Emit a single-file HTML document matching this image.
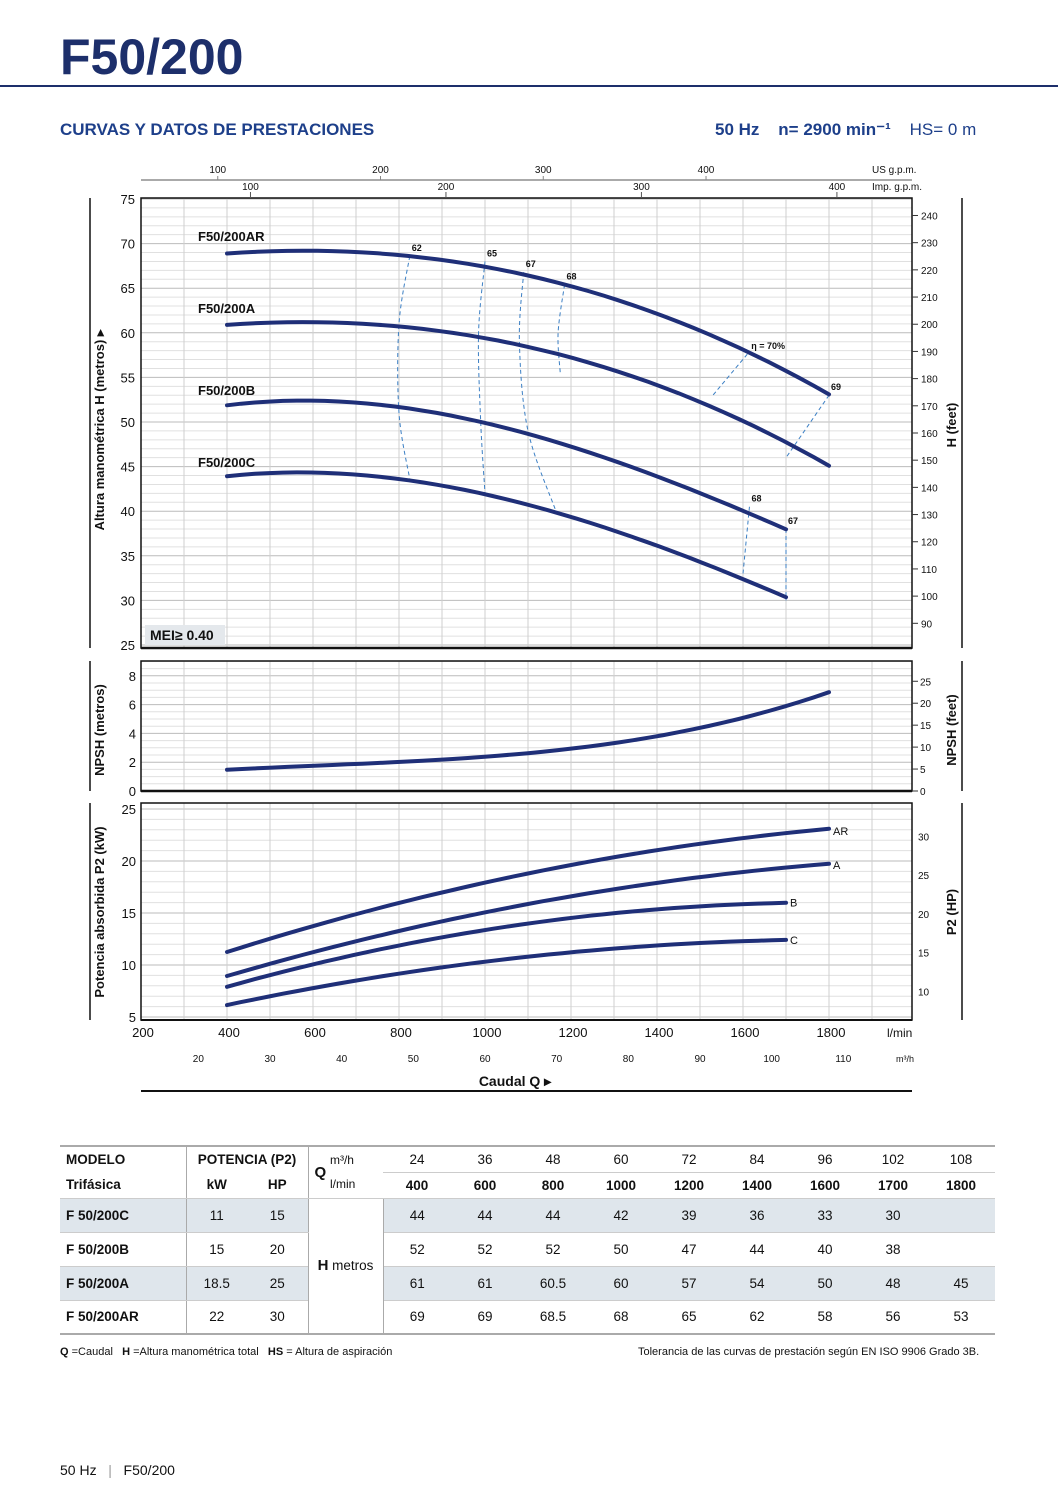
<!DOCTYPE html>
<html><head><meta charset="utf-8">
<style>
body{margin:0;background:#fff;}
#page{position:relative;width:1058px;height:1497px;overflow:hidden;font-family:"Liberation Sans",sans-serif;color:#111;}
.t{position:absolute;white-space:nowrap;}
table{border-collapse:collapse;position:absolute;left:60px;top:1145px;font-size:13.5px;table-layout:fixed;width:935px;}
td{height:34px;text-align:center;padding:0;border-bottom:1px solid #ccc;box-sizing:border-box;overflow:hidden;white-space:nowrap;}
tr.hd td{height:26px;}
.sh td.s{background:#dfe6ec;}
</style></head>
<body>
<div id="page">
<div class="t" style="left:60px;top:28px;font-size:50px;font-weight:bold;color:#1d2f6b;">F50/200</div>
<div style="position:absolute;left:0;top:85px;width:1058px;height:2px;background:#1d2f6b"></div>
<div class="t" style="left:60px;top:120px;font-size:17px;font-weight:bold;color:#1d3f8a;">CURVAS Y DATOS DE PRESTACIONES</div>
<div class="t" style="left:715px;top:120px;font-size:17px;color:#1d3f8a;"><b>50 Hz &nbsp;&nbsp; n= 2900 min⁻¹</b> &nbsp;&nbsp; HS= 0 m</div>

<svg id="chart" width="1058" height="1110" style="position:absolute;left:0;top:0" font-family="Liberation Sans, sans-serif"></svg>

<table>
<colgroup><col style="width:126px"><col style="width:61px"><col style="width:61px"><col style="width:75px"><col span="9" style="width:68px"></colgroup>
<tr class="hd" style="font-weight:bold"><td style="text-align:left;padding-left:6px;border-top:2px solid #aaa;border-bottom:none">MODELO</td><td colspan="2" style="border-top:2px solid #aaa;border-left:1px solid #aaa;border-bottom:none">POTENCIA (P2)</td><td rowspan="2" style="border-top:2px solid #aaa;border-left:1px solid #aaa;text-align:left;font-weight:normal"><b style="font-size:15px;padding-left:6px;vertical-align:middle">Q</b> <span style="font-size:12px;display:inline-block;vertical-align:middle;line-height:24px">m³/h<br>l/min</span></td>
<td style="font-weight:normal;border-top:2px solid #aaa">24</td><td style="font-weight:normal;border-top:2px solid #aaa">36</td><td style="font-weight:normal;border-top:2px solid #aaa">48</td><td style="font-weight:normal;border-top:2px solid #aaa">60</td><td style="font-weight:normal;border-top:2px solid #aaa">72</td><td style="font-weight:normal;border-top:2px solid #aaa">84</td><td style="font-weight:normal;border-top:2px solid #aaa">96</td><td style="font-weight:normal;border-top:2px solid #aaa">102</td><td style="font-weight:normal;border-top:2px solid #aaa">108</td></tr>
<tr class="hd" style="font-weight:bold"><td style="text-align:left;padding-left:6px">Trifásica</td><td style="border-left:1px solid #aaa">kW</td><td>HP</td><td>400</td><td>600</td><td>800</td><td>1000</td><td>1200</td><td>1400</td><td>1600</td><td>1700</td><td>1800</td></tr>
<tr class="sh"><td class="s" style="text-align:left;padding-left:6px;font-weight:bold">F 50/200C</td><td class="s" style="border-left:1px solid #aaa">11</td><td class="s">15</td><td rowspan="4" style="border-left:1px solid #aaa;border-right:1px solid #aaa;border-bottom:2px solid #aaa"><b style="font-size:15px">H</b> metros</td><td class="s">44</td><td class="s">44</td><td class="s">44</td><td class="s">42</td><td class="s">39</td><td class="s">36</td><td class="s">33</td><td class="s">30</td><td class="s"></td></tr>
<tr><td style="text-align:left;padding-left:6px;font-weight:bold">F 50/200B</td><td style="border-left:1px solid #aaa">15</td><td>20</td><td>52</td><td>52</td><td>52</td><td>50</td><td>47</td><td>44</td><td>40</td><td>38</td><td></td></tr>
<tr class="sh"><td class="s" style="text-align:left;padding-left:6px;font-weight:bold">F 50/200A</td><td class="s" style="border-left:1px solid #aaa">18.5</td><td class="s">25</td><td class="s">61</td><td class="s">61</td><td class="s">60.5</td><td class="s">60</td><td class="s">57</td><td class="s">54</td><td class="s">50</td><td class="s">48</td><td class="s">45</td></tr>
<tr><td style="text-align:left;padding-left:6px;font-weight:bold;border-bottom:2px solid #aaa">F 50/200AR</td><td style="border-left:1px solid #aaa;border-bottom:2px solid #aaa">22</td><td style="border-bottom:2px solid #aaa">30</td><td style="border-bottom:2px solid #aaa">69</td><td style="border-bottom:2px solid #aaa">69</td><td style="border-bottom:2px solid #aaa">68.5</td><td style="border-bottom:2px solid #aaa">68</td><td style="border-bottom:2px solid #aaa">65</td><td style="border-bottom:2px solid #aaa">62</td><td style="border-bottom:2px solid #aaa">58</td><td style="border-bottom:2px solid #aaa">56</td><td style="border-bottom:2px solid #aaa">53</td></tr>
</table>
<div class="t" style="left:60px;top:1346px;font-size:11px;"><b>Q</b> =Caudal &nbsp; <b>H</b> =Altura manométrica total &nbsp; <b>HS</b> = Altura de aspiración</div>
<div class="t" style="left:638px;top:1346px;font-size:11px;">Tolerancia de las curvas de prestación según EN ISO 9906 Grado 3B.</div>
<div class="t" style="left:60px;top:1462px;font-size:14px;">50 Hz &nbsp;&nbsp;<span style="color:#999">|</span>&nbsp;&nbsp; F50/200</div>
</div>

<script>
const flowQ = [400,600,800,1000,1200,1400,1600,1700,1800];
const headAR = [69,69,68.5,68,65,62,58,56,53];
const headA = [61,61,60.5,60,57,54,50,48,45];
const headB = [52,52,52,50,47,44,40,38];
const headC = [44,44,44,42,39,36,33,30];
const npshQ = [400,600,800,1000,1200,1400,1600,1800];
const npshM = [1.5,1.7,2.0,2.4,3.0,3.8,5.0,6.9];
const powerQ = [400,1000,1400,1700,1800];
const powerAR = [11.3,17.7,21.3,22.7,23.0];
const powerA = [9.0,14.8,18.2,19.4,19.6];
const powerB = [7.9,13.4,15.3,16.0];
const powerC = [6.15,10.3,11.9,12.4];
const effLines = [
 {label:'62', pts:[[825,68.6],[800,61],[800,51],[825,43.6]]},
 {label:'65', pts:[[1000,68],[985,60],[990,50],[1000,42]]},
 {label:'67', pts:[[1090,66.8],[1080,59],[1100,49],[1165,40]]},
 {label:'68', pts:[[1185,65.4],[1170,60],[1175,55.5]]},
 {label:'η = 70%', pts:[[1610,57.6],[1530,53]]},
 {label:'69', pts:[[1800,53],[1700,46]]},
 {label:'68', pts:[[1615,40.5],[1600,33]]},
 {label:'67', pts:[[1700,38],[1700,30]]}
];
const hTicks = [25,30,35,40,45,50,55,60,65,70,75];
const ftTicks = [90,100,110,120,130,140,150,160,170,180,190,200,210,220,230,240];
const qTicks = [200,400,600,800,1000,1200,1400,1600,1800];
const m3Ticks = [20,30,40,50,60,70,80,90,100,110];
const usTicks = [100,200,300,400];
const impTicks = [100,200,300,400];
const npshTicks = [0,2,4,6,8];
const npshFt = [0,5,10,15,20,25];
const pTicks = [5,10,15,20,25];
const hpTicks = [10,15,20,25,30];

const NS='http://www.w3.org/2000/svg';
const svg=document.getElementById('chart');
const X=q=>141+(q-200)*0.43;
const YH=h=>199+(75-h)*8.92;
const YN=n=>791-n*14.4;
const YP=p=>809+(25-p)*10.4;
const L=141,R=912;
function mk(tag,attrs,parent){const e=document.createElementNS(NS,tag);for(const k in attrs)e.setAttribute(k,attrs[k]);(parent||svg).appendChild(e);return e;}
function txt(x,y,s,size,anchor,weight,name,rot){const e=mk('text',{x:x,y:y,'font-size':size,'text-anchor':anchor||'middle','font-weight':weight||'normal',fill:'#111'});if(rot)e.setAttribute('transform','rotate(-90 '+x+' '+y+')');e.textContent=s;


return e;}
function line(x1,y1,x2,y2,c,w,name){const e=mk('line',{x1:x1,y1:y1,x2:x2,y2:y2,stroke:c,'stroke-width':w});


return e;}
function smooth(pts){let d='M'+pts[0][0]+','+pts[0][1];for(let i=0;i<pts.length-1;i++){const p0=pts[i-1]||pts[i],p1=pts[i],p2=pts[i+1],p3=pts[i+2]||p2;
d+=' C'+(p1[0]+(p2[0]-p0[0])/6)+','+(p1[1]+(p2[1]-p0[1])/6)+' '+(p2[0]-(p3[0]-p1[0])/6)+','+(p2[1]-(p3[1]-p1[1])/6)+' '+p2[0]+','+p2[1];}return d;}
// least-squares polynomial fit for smooth drawing
function polyfit(xs,ys,deg){const n=deg+1;const A=[];for(let i=0;i<n;i++){A.push(new Array(n+1).fill(0));}
 xs.forEach((x,k)=>{const t=(x-1000)/1000;for(let i=0;i<n;i++){for(let j=0;j<n;j++)A[i][j]+=Math.pow(t,i+j);A[i][n]+=ys[k]*Math.pow(t,i);}});
 for(let i=0;i<n;i++){let p=i;for(let r=i+1;r<n;r++)if(Math.abs(A[r][i])>Math.abs(A[p][i]))p=r;[A[i],A[p]]=[A[p],A[i]];
  for(let r=0;r<n;r++){if(r===i)continue;const f=A[r][i]/A[i][i];for(let c=i;c<=n;c++)A[r][c]-=f*A[i][c];}}
 const c=A.map((row,i)=>row[n]/row[i]);return x=>{const t=(x-1000)/1000;let s=0;for(let i=0;i<n;i++)s+=c[i]*Math.pow(t,i);return s;};}
function curve(qs,vs,Y,name,deg){const f=polyfit(qs,vs,Math.min(deg||3,qs.length-1));const q0=qs[0],q1=qs[qs.length-1];const pts=[];
 for(let k=0;k<=40;k++){const q=q0+(q1-q0)*k/40;pts.push([X(q),Y(f(q))]);}
 const e=mk('path',{d:'M'+pts.map(p=>p[0].toFixed(1)+','+p[1].toFixed(1)).join(' L'),fill:'none',stroke:'#1f2f78','stroke-width':4,'stroke-linecap':'round','stroke-linejoin':'round'});
 
 
 return pts;}
function grid(top,bot,vmin,vmax,step,major,Y,name){
 for(let v=vmin;v<=vmax+1e-9;v+=step){line(L,Y(v),R,Y(v),Math.abs(v/major-Math.round(v/major))<1e-6?'#bbb':'#e0e0e0',1,name+'-hgrid');}
 for(let q=300;q<=2000;q+=100){if(X(q)<R)line(X(q),top,X(q),bot,'#cfcfcf',1,name+'-vgrid');}
 const r=mk('rect',{x:L,y:top,width:R-L,height:bot-top,fill:'none',stroke:'#111','stroke-width':1.5});
 
 
}
// H chart
grid(198,648,25,75,1,5,YH,'head-chart');
line(L,648,R,648,'#111',2.5,'head-x-axis');
hTicks.forEach(h=>txt(135,YH(h)+5,h,13,'end','normal','head-tick'));
ftTicks.forEach(f=>{const y=YH(f*0.3048);line(R,y,R+6,y,'#333',1,'feet-tick-mark');txt(921,y+4,f,10,'start','normal','feet-tick');});
line(90,198,90,648,'#111',1.5,'left-rule-head');line(962,198,962,648,'#111',1.5,'right-rule-head');
txt(104,430,'Altura manométrica H (metros)  ▸',13,'middle','bold','head-y-title',true);
txt(956,425,'H (feet)',13,'middle','bold','feet-y-title',true);
// top axes
line(141,180,912,180,'#aaa',2,'us-gpm-axis');
usTicks.forEach(g=>{const x=X(g*3.785);txt(x,173,g,10,'middle','normal','us-gpm-tick');line(x,176,x,180,'#888',1,'us-tick-mark');});
impTicks.forEach(g=>{const x=X(g*4.546);txt(x,190,g,10,'middle','normal','imp-gpm-tick');line(x,192,x,198,'#555',1,'imp-tick-mark');});
txt(872,173,'US g.p.m.',10,'start','normal','us-gpm-label');txt(872,190,'Imp. g.p.m.',10,'start','normal','imp-gpm-label');
// eff lines
effLines.forEach(e=>{const pts=e.pts.map(p=>[X(p[0]),YH(p[1])]);const p=mk('path',{d:smooth(pts),fill:'none',stroke:'#3b7fc4','stroke-width':1,'stroke-dasharray':'4,3'});


txt(pts[0][0]+(e.label.length>3?4:2),pts[0][1]-5,e.label,9,'start','bold','efficiency-label');});
curve(flowQ,headAR,YH,'head-curve-ar',3);curve(flowQ,headA,YH,'head-curve-a',3);curve(flowQ.slice(0,8),headB,YH,'head-curve-b',3);curve(flowQ.slice(0,8),headC,YH,'head-curve-c',3);
txt(198,241,'F50/200AR',13,'start','bold','label-ar');txt(198,313,'F50/200A',13,'start','bold','label-a');
txt(198,395,'F50/200B',13,'start','bold','label-b');txt(198,467,'F50/200C',13,'start','bold','label-c');
const mr=mk('rect',{x:145,y:625,width:80,height:20,fill:'#e4e8ec'});
txt(150,640,'MEI≥ 0.40',14,'start','bold','mei-label');
// NPSH
grid(661,791,0,9,0.5,2,YN,'npsh-chart');
line(L,791,R,791,'#111',2.5,'npsh-x-axis');
npshTicks.forEach(n=>txt(136,YN(n)+5,n,13,'end','normal','npsh-tick'));
npshFt.forEach(f=>{const y=YN(f*0.3048);line(R,y,R+6,y,'#333',1,'npsh-ft-mark');txt(920,y+4,f,10,'start','normal','npsh-ft-tick');});
line(90,661,90,791,'#111',1.5,'left-rule-npsh');line(962,661,962,791,'#111',1.5,'right-rule-npsh');
txt(104,730,'NPSH (metros)',13,'middle','bold','npsh-y-title',true);
txt(956,730,'NPSH (feet)',13,'middle','bold','npsh-ft-title',true);
curve(npshQ,npshM,YN,'npsh-curve',3);
// Power
grid(803,1020,5,25.5,1,5,YP,'power-chart');
line(L,1020,R,1020,'#111',2,'power-x-axis');
pTicks.forEach(p=>txt(136,YP(p)+5,p,13,'end','normal','power-tick'));
hpTicks.forEach(h=>{const y=YP(h*0.7457);txt(918,y+4,h,10,'start','normal','hp-tick');});
line(90,803,90,1020,'#111',1.5,'left-rule-power');line(962,803,962,1020,'#111',1.5,'right-rule-power');
txt(104,912,'Potencia absorbida P2 (kW)',13,'middle','bold','power-y-title',true);
txt(956,912,'P2 (HP)',13,'middle','bold','hp-y-title',true);
curve(powerQ,powerAR,YP,'power-curve-ar',2);curve(powerQ,powerA,YP,'power-curve-a',2);curve(powerQ.slice(0,4),powerB,YP,'power-curve-b',2);curve(powerQ.slice(0,4),powerC,YP,'power-curve-c',2);
txt(X(1800)+4,YP(23)+5,'AR',11,'start','normal','power-label-ar');txt(X(1800)+4,YP(19.6)+4,'A',11,'start','normal','power-label-a');
txt(X(1700)+4,YP(16)+4,'B',11,'start','normal','power-label-b');txt(X(1700)+4,YP(12.4)+4,'C',11,'start','normal','power-label-c');
qTicks.forEach(q=>txt(X(q)+2,1037,q,13,'middle','normal','flow-tick'));
txt(887,1037,'l/min',12,'start','normal','flow-unit');
m3Ticks.forEach(m=>txt(X(m*1000/60),1062,m,10,'middle','normal','m3h-tick'));
txt(896,1062,'m³/h',9,'start','normal','m3h-unit');
txt(515,1086,'Caudal Q  ▸',14,'middle','bold','x-axis-title');
line(141,1091,912,1091,'#111',2,'bottom-rule');
</script>
</body></html>
